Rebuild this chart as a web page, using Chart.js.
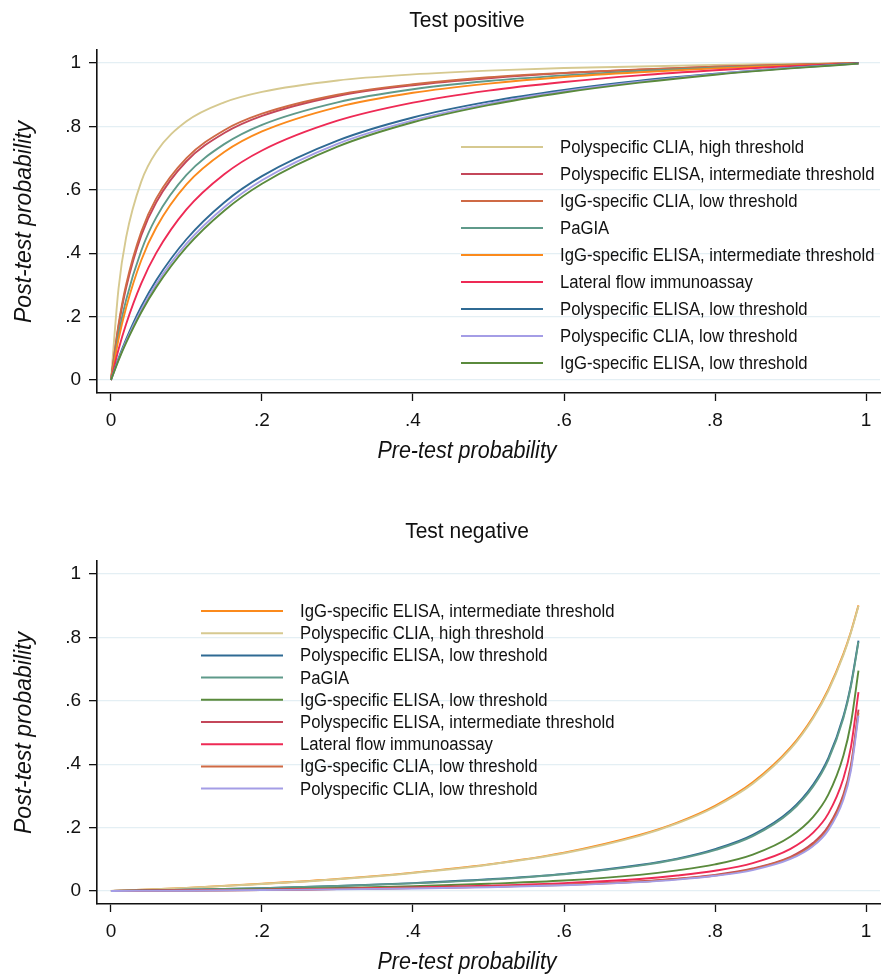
<!DOCTYPE html>
<html lang="en">
<head>
<meta charset="UTF-8" />
<title>Post-test probability</title>
<script src="https://cdn.jsdelivr.net/npm/chart.js@4.4.0/dist/chart.umd.min.js"></script>
<style>
  html, body { margin: 0; padding: 0; background: #fff; }
  body { width: 886px; height: 976px; position: relative; overflow: hidden; }
  canvas { position: absolute; left: 0; }
  #posChart { top: 0; }
  #negChart { top: 511px; }
</style>
</head>
<body>
<canvas id="posChart" width="886" height="465"></canvas>
<canvas id="negChart" width="886" height="465"></canvas>
<script>
// pre-test probabilities the curves were read at
const preTestPos = [0, 0.01, 0.02, 0.04, 0.06, 0.1, 0.15, 0.2, 0.3, 0.4, 0.5, 0.6, 0.7, 0.8, 0.9, 0.99];
const preTestNeg = [0, 0.1, 0.2, 0.3, 0.4, 0.5, 0.6, 0.7, 0.75, 0.8, 0.85, 0.9, 0.93, 0.95, 0.97, 0.98, 0.99];

const tickValues = [0, 0.2, 0.4, 0.6, 0.8, 1];
const tickLabels = ['0', '.2', '.4', '.6', '.8', '1'];

// tests, in the legend order of the "Test positive" panel
const testNames = [
  'Polyspecific CLIA, high threshold',
  'Polyspecific ELISA, intermediate threshold',
  'IgG-specific CLIA, low threshold',
  'PaGIA',
  'IgG-specific ELISA, intermediate threshold',
  'Lateral flow immunoassay',
  'Polyspecific ELISA, low threshold',
  'Polyspecific CLIA, low threshold',
  'IgG-specific ELISA, low threshold'
];
const testColors = ['#d6c990', '#c4475a', '#cf6a45', '#5f9a8a', '#fb8a1c', '#ee2a55', '#2f6a93', '#a49de6', '#5a8a3c'];

// legend / plotting order of the "Test negative" panel
const negOrder = [
  'IgG-specific ELISA, intermediate threshold',
  'Polyspecific CLIA, high threshold',
  'Polyspecific ELISA, low threshold',
  'PaGIA',
  'IgG-specific ELISA, low threshold',
  'Polyspecific ELISA, intermediate threshold',
  'Lateral flow immunoassay',
  'IgG-specific CLIA, low threshold',
  'Polyspecific CLIA, low threshold'
];

// post-test probability, test positive
const posPolyCliaHigh = [0, 0.288, 0.449, 0.625, 0.719, 0.816, 0.876, 0.909, 0.945, 0.964, 0.976, 0.984, 0.989, 0.994, 0.997, 1.0];
const posPolyElisaInt = [0, 0.168, 0.290, 0.455, 0.561, 0.690, 0.779, 0.833, 0.896, 0.930, 0.952, 0.968, 0.979, 0.988, 0.994, 0.999];
const posIggCliaLow   = [0, 0.175, 0.300, 0.467, 0.573, 0.700, 0.788, 0.840, 0.900, 0.933, 0.955, 0.969, 0.980, 0.988, 0.995, 1.0];
const posPagia        = [0, 0.143, 0.252, 0.407, 0.513, 0.647, 0.744, 0.805, 0.876, 0.917, 0.943, 0.961, 0.975, 0.985, 0.993, 0.999];
const posIggElisaInt  = [0, 0.128, 0.228, 0.377, 0.481, 0.617, 0.719, 0.784, 0.861, 0.906, 0.935, 0.956, 0.971, 0.983, 0.992, 0.999];
const posLfi          = [0, 0.096, 0.176, 0.304, 0.401, 0.538, 0.649, 0.724, 0.818, 0.875, 0.913, 0.940, 0.961, 0.977, 0.990, 0.999];
const posPolyElisaLow = [0, 0.068, 0.128, 0.231, 0.315, 0.444, 0.560, 0.643, 0.755, 0.828, 0.878, 0.915, 0.944, 0.966, 0.985, 0.999];
const posPolyCliaLow  = [0, 0.064, 0.122, 0.221, 0.303, 0.430, 0.545, 0.630, 0.745, 0.819, 0.872, 0.911, 0.941, 0.965, 0.984, 0.998];
const posIggElisaLow  = [0, 0.062, 0.117, 0.213, 0.293, 0.419, 0.534, 0.619, 0.736, 0.813, 0.867, 0.907, 0.938, 0.963, 0.983, 0.998];

// post-test probability, test negative
const negPolyCliaHigh = [0, 0.010, 0.022, 0.037, 0.057, 0.083, 0.119, 0.174, 0.213, 0.265, 0.338, 0.448, 0.545, 0.631, 0.744, 0.815, 0.899];
const negPolyElisaInt = [0, 0.002, 0.003, 0.006, 0.009, 0.013, 0.020, 0.031, 0.039, 0.051, 0.071, 0.108, 0.152, 0.204, 0.304, 0.398, 0.572];
const negIggCliaLow   = [0, 0.001, 0.003, 0.006, 0.009, 0.013, 0.019, 0.029, 0.038, 0.049, 0.069, 0.105, 0.147, 0.198, 0.296, 0.389, 0.563];
const negPagia        = [0, 0.004, 0.009, 0.016, 0.024, 0.036, 0.053, 0.080, 0.100, 0.129, 0.173, 0.250, 0.330, 0.413, 0.545, 0.645, 0.786];
const negIggElisaInt  = [0, 0.010, 0.023, 0.038, 0.058, 0.084, 0.121, 0.177, 0.216, 0.269, 0.343, 0.453, 0.550, 0.636, 0.748, 0.818, 0.901];
const negLfi          = [0, 0.002, 0.004, 0.007, 0.011, 0.017, 0.025, 0.038, 0.049, 0.064, 0.088, 0.133, 0.184, 0.244, 0.355, 0.454, 0.627];
const negPolyElisaLow = [0, 0.004, 0.009, 0.016, 0.025, 0.037, 0.054, 0.082, 0.102, 0.132, 0.177, 0.255, 0.336, 0.419, 0.551, 0.651, 0.790];
const negPolyCliaLow  = [0, 0.001, 0.003, 0.005, 0.008, 0.012, 0.018, 0.028, 0.036, 0.048, 0.066, 0.101, 0.142, 0.192, 0.288, 0.380, 0.553];
const negIggElisaLow  = [0, 0.003, 0.006, 0.010, 0.015, 0.023, 0.033, 0.051, 0.065, 0.084, 0.115, 0.172, 0.234, 0.304, 0.427, 0.530, 0.695];

const posSeries = [posPolyCliaHigh, posPolyElisaInt, posIggCliaLow, posPagia, posIggElisaInt,
                   posLfi, posPolyElisaLow, posPolyCliaLow, posIggElisaLow];
const negSeries = [negPolyCliaHigh, negPolyElisaInt, negIggCliaLow, negPagia, negIggElisaInt,
                   negLfi, negPolyElisaLow, negPolyCliaLow, negIggElisaLow];

const FONT = '"Liberation Sans", Arial, Helvetica, sans-serif';
Chart.defaults.font.family = FONT;
Chart.defaults.color = '#111';

// text slightly taller than wide, like the original figure
function tallText(ctx, text, x, y, rot) {
  ctx.save();
  ctx.translate(x, y);
  if (rot) ctx.rotate(rot);
  ctx.scale(1, 1.08);
  ctx.fillText(text, 0, 0);
  ctx.restore();
}

// Stata-like decorations: titles, and the legend drawn inside the plot region
const decor = {
  id: 'decor',
  afterDraw(chart, args, o) {
    const ctx = chart.ctx;
    ctx.save();
    ctx.fillStyle = '#111';
    ctx.textAlign = 'center';
    ctx.textBaseline = 'middle';
    ctx.font = '21px ' + FONT;
    tallText(ctx, o.title, 467, 21);
    ctx.font = 'italic 21.5px ' + FONT;
    tallText(ctx, 'Pre-test probability', 467, 452);
    ctx.font = 'italic 23px ' + FONT;
    tallText(ctx, 'Post-test probability', 24, 222, -Math.PI / 2);

    ctx.textAlign = 'left';
    ctx.font = '16.7px ' + FONT;
    o.order.forEach((name, i) => {
      const ds = chart.data.datasets.find(d => d.label === name);
      const y = o.legendTop + i * o.legendGap;
      ctx.strokeStyle = ds.borderColor;
      ctx.lineWidth = 2;
      ctx.beginPath();
      ctx.moveTo(o.legendX, y);
      ctx.lineTo(o.legendX + 82, y);
      ctx.stroke();
      tallText(ctx, name, o.legendX + 99, y + 1);
    });
    ctx.restore();
  }
};

function makePanel(id, title, xs, series, order, legendX, legendTop, legendGap) {
  const datasets = testNames.map((name, i) => ({
    label: name,
    data: xs.map((x, j) => ({ x: x, y: series[i][j] })),
    borderColor: testColors[i],
    backgroundColor: testColors[i],
    borderWidth: 1.9,
    pointRadius: 0,
    fill: false,
    cubicInterpolationMode: 'monotone',
    order: -order.indexOf(name)   // later in the legend = drawn on top
  }));

  const setTicks = s => { s.ticks = tickValues.map(v => ({ value: v })); };
  const tickText = v => tickLabels[tickValues.findIndex(t => Math.abs(t - v) < 1e-9)];

  new Chart(document.getElementById(id), {
    type: 'line',
    data: { datasets },
    plugins: [decor],
    options: {
      responsive: false,
      animation: false,
      events: [],
      layout: { padding: { top: 50, right: 6, left: 0, bottom: 0 } },
      plugins: {
        legend: { display: false },
        tooltip: { enabled: false },
        decor: { title, order, legendX, legendTop, legendGap }
      },
      scales: {
        x: {
          type: 'linear',
          min: -0.0185,
          max: 1.0185,
          afterBuildTicks: setTicks,
          afterFit: s => { s.height = 72; },
          ticks: { callback: tickText, font: { size: 19 }, color: '#111', padding: 8, maxRotation: 0 },
          grid: { drawOnChartArea: false, tickLength: 8, tickColor: '#111', tickWidth: 1.3 },
          border: { color: '#111', width: 1.6 }
        },
        y: {
          min: -0.041,
          max: 1.041,
          afterBuildTicks: setTicks,
          afterFit: s => { s.width = 97; },
          ticks: { callback: tickText, font: { size: 19 }, color: '#111', padding: 8 },
          grid: { color: '#e4eff4', lineWidth: 1.3, tickLength: 8, tickColor: '#111', tickWidth: 1.3 },
          border: { color: '#111', width: 1.6 }
        }
      }
    }
  });
}

makePanel('posChart', 'Test positive', preTestPos, posSeries, testNames, 461, 147, 27);
makePanel('negChart', 'Test negative', preTestNeg, negSeries, negOrder, 201, 100, 22.2);
</script>
</body>
</html>
